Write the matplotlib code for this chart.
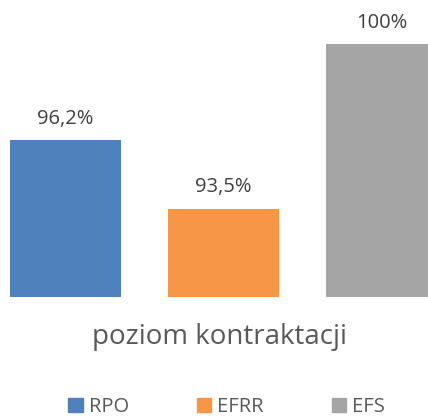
import matplotlib.pyplot as plt

categories = ['RPO', 'EFRR', 'EFS']
values = [96.2, 93.5, 100.0]
labels = ['96,2%', '93,5%', '100%']
colors = ['#4f81bd', '#f79646', '#a5a5a5']

plt.rcParams['font.family'] = ['Open Sans', 'DejaVu Sans']

fig = plt.figure(figsize=(4.28, 4.19), dpi=100)
ax = fig.add_axes([0, 122 / 419, 1, 297 / 419])

x = list(range(len(categories)))
bars = ax.bar(x, [v - 90 for v in values], bottom=90, width=0.70,
              color=colors, label=categories)
for xi, v, lab in zip(x, values, labels):
    ax.annotate(lab, (xi, v), xytext=(0, 12), textcoords='offset points',
                ha='center', va='baseline', fontsize=14.5, color='#404040')

ax.set_xlim(-0.4146, 2.294)
ax.set_ylim(90, 90 + 297 / 25.26)
ax.axis('off')

fig.text(0.513, 1 - 337 / 419, 'poziom kontraktacji', ha='center', va='center',
         fontsize=20, color='#595959')

handles = [plt.Rectangle((0, 0), 1, 1, color=c) for c in colors]
fig.legend(handles, categories, loc='center', bbox_to_anchor=(0.53, 1 - 407 / 419),
           ncol=3, frameon=False, fontsize=14.5, labelcolor='#595959',
           handlelength=0.7, handleheight=0.7, handletextpad=0.3,
           columnspacing=3.4)

fig.savefig('out.png', dpi=100)
